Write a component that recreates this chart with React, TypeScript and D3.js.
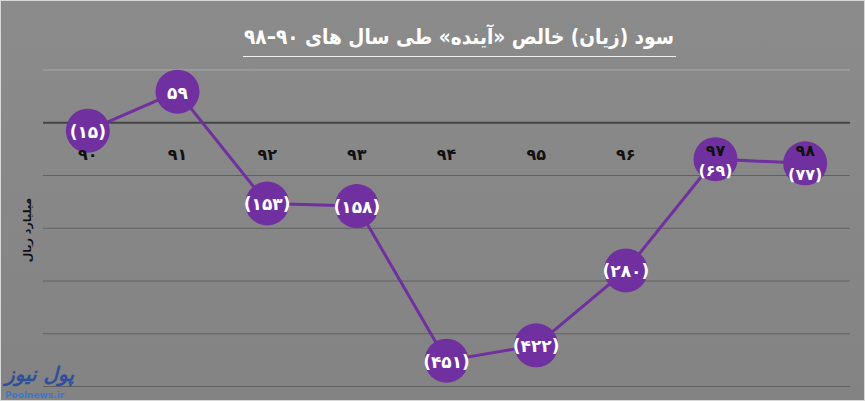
import { useEffect, useRef } from "react";
import * as d3 from "d3";

const WIDTH = 865;
const HEIGHT = 401;
const MARGIN = { top: 70, right: 15, bottom: 14.5, left: 43 };

const years = ["۹۰", "۹۱", "۹۲", "۹۳", "۹۴", "۹۵", "۹۶", "۹۷", "۹۸"];
const values = [-15, 59, -153, -158, -451, -422, -280, -69, -77];
const gridTicks = [100, 0, -100, -200, -300, -400, -500];

const TITLE = "سود (زیان) خالص «آینده» طی سال های ۹۰–۹۸";
const Y_TITLE = "میلیارد ریال";
const PURPLE = "#7030a0";
const FONT = "DejaVu Sans, sans-serif";

const toPersian = (n: number) => String(n).replace(/\d/g, (d) => "۰۱۲۳۴۵۶۷۸۹"[+d]);
const fmt = (v: number) => (v < 0 ? `(${toPersian(-v)})` : toPersian(v));

export default function App() {
  const ref = useRef<SVGSVGElement>(null);

  useEffect(() => {
    document.body.style.margin = "0";
    if (!ref.current) return;
    const svg = d3.select(ref.current);
    svg.selectAll("*").remove();

    const x = d3
      .scaleBand<string>()
      .domain(years)
      .range([MARGIN.left, WIDTH - MARGIN.right])
      .padding(0);
    const y = d3
      .scaleLinear()
      .domain([-500, 100])
      .range([HEIGHT - MARGIN.bottom, MARGIN.top]);
    const cx = (i: number) => (x(years[i]) ?? 0) + x.bandwidth() / 2;

    // background
    const defs = svg.append("defs");
    const grad = defs
      .append("linearGradient")
      .attr("id", "bg")
      .attr("x1", 0)
      .attr("y1", 0)
      .attr("x2", 0)
      .attr("y2", 1);
    grad.append("stop").attr("offset", "0%").attr("stop-color", "#8b8b8b");
    grad.append("stop").attr("offset", "100%").attr("stop-color", "#838383");
    svg
      .append("rect")
      .attr("x", 0.5)
      .attr("y", 0.5)
      .attr("width", WIDTH - 1)
      .attr("height", HEIGHT - 1)
      .attr("fill", "url(#bg)")
      .attr("stroke", "#d8d8d8");

    // gridlines
    svg
      .append("g")
      .selectAll("line")
      .data(gridTicks)
      .join("line")
      .attr("x1", MARGIN.left)
      .attr("x2", WIDTH - MARGIN.right)
      .attr("y1", (d) => y(d))
      .attr("y2", (d) => y(d))
      .attr("stroke", (d) => (d === 100 ? "#a9a9a9" : d === 0 ? "#444" : "#606060"))
      .attr("stroke-width", (d) => (d === 0 ? 2 : 1));

    // title
    svg
      .append("text")
      .attr("x", 459)
      .attr("y", 44)
      .attr("text-anchor", "middle")
      .attr("direction", "rtl")
      .attr("font-family", FONT)
      .attr("font-weight", "bold")
      .attr("font-size", 21)
      .attr("textLength", 430)
      .attr("lengthAdjust", "spacingAndGlyphs")
      .attr("fill", "#fff")
      .text(TITLE);
    svg
      .append("line")
      .attr("x1", 243)
      .attr("x2", 676)
      .attr("y1", 56.5)
      .attr("y2", 56.5)
      .attr("stroke", "#f0f0f0")
      .attr("stroke-width", 1);

    // y axis title
    svg
      .append("text")
      .attr("transform", "translate(31,230) rotate(-90)")
      .attr("text-anchor", "middle")
      .attr("direction", "rtl")
      .attr("font-family", FONT)
      .attr("font-weight", "bold")
      .attr("font-size", 11)
      .attr("fill", "#111")
      .text(Y_TITLE);

    // line
    const line = d3
      .line<number>()
      .x((_, i) => cx(i))
      .y((d) => y(d));
    svg
      .append("path")
      .datum(values)
      .attr("d", line)
      .attr("fill", "none")
      .attr("stroke", PURPLE)
      .attr("stroke-width", 3);

    // markers
    svg
      .append("g")
      .selectAll("circle")
      .data(values)
      .join("circle")
      .attr("cx", (_, i) => cx(i))
      .attr("cy", (d) => y(d))
      .attr("r", 22)
      .attr("fill", PURPLE);

    // category labels
    svg
      .append("g")
      .selectAll("text")
      .data(years)
      .join("text")
      .attr("x", (_, i) => cx(i))
      .attr("y", (_, i) => (i >= 7 ? 156 : 160))
      .attr("text-anchor", "middle")
      .attr("font-family", FONT)
      .attr("font-weight", "bold")
      .attr("font-size", 16)
      .attr("fill", "#111")
      .text((d) => d);

    // data labels
    svg
      .append("g")
      .selectAll("text")
      .data(values)
      .join("text")
      .attr("x", (_, i) => cx(i))
      .attr("y", (d, i) => y(d) + (i >= 7 ? 17 : 7))
      .attr("text-anchor", "middle")
      .attr("direction", "ltr")
      .attr("font-family", FONT)
      .attr("font-weight", "bold")
      .attr("font-size", (_, i) => (i >= 7 ? 16 : 17))
      .attr("fill", "#fff")
      .text((d) => fmt(d));

    // logo
    svg
      .append("text")
      .attr("x", 74)
      .attr("y", 381)
      .attr("direction", "rtl")
      .attr("text-anchor", "start")
      .attr("font-family", FONT)
      .attr("font-weight", "bold")
      .attr("font-style", "italic")
      .attr("font-size", 20)
      .attr("fill", "#2f4f9a")
      .text("پول نیوز");
    svg
      .append("text")
      .attr("x", 5)
      .attr("y", 398)
      .attr("font-family", FONT)
      .attr("font-weight", "bold")
      .attr("font-size", 9)
      .attr("fill", "#3a78c8")
      .text("Poolnews.ir");
  }, []);

  return (
    <svg
      ref={ref}
      width={WIDTH}
      height={HEIGHT}
      style={{ display: "block", position: "absolute", left: 0, top: 0 }}
    />
  );
}
